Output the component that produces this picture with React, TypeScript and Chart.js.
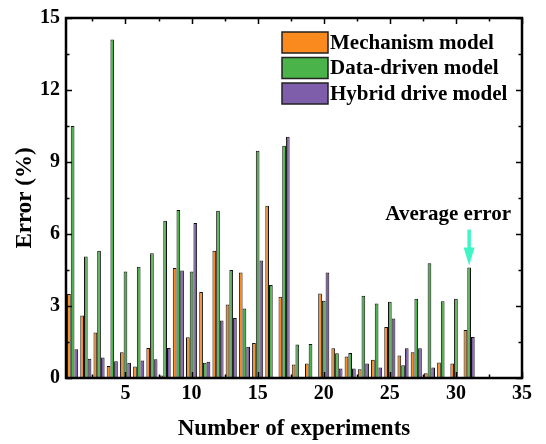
import React, { useEffect, useRef } from "react";
import { Chart, registerables } from "chart.js";

Chart.register(...registerables);

const experiments = [1, 2, 3, 4, 5, 6, 7, 8, 9, 10, 11, 12, 13, 14, 15, 16, 17, 18, 19, 20, 21, 22, 23, 24, 25, 26, 27, 28, 29, 30, 31];
const mechanismModel = [3.5, 2.6, 1.9, 0.5, 1.07, 0.48, 1.25, 0.1, 4.58, 1.7, 3.58, 5.3, 3.06, 4.4, 1.46, 7.18, 3.39, 0.56, 0.6, 3.52, 1.24, 0.9, 0.36, 0.76, 2.13, 0.94, 1.07, 0.2, 0.65, 0.6, 2.0];
const dataDrivenModel = [10.5, 5.06, 5.3, 14.1, 4.44, 4.64, 5.2, 6.55, 7.0, 4.44, 0.64, 6.97, 4.5, 2.9, 9.47, 3.88, 9.68, 1.4, 1.42, 3.22, 1.03, 1.04, 3.43, 3.1, 3.18, 0.53, 3.3, 4.78, 3.2, 3.3, 4.6];
const hybridDriveModel = [1.2, 0.8, 0.85, 0.7, 0.64, 0.73, 0.78, 1.25, 4.48, 6.46, 0.68, 2.4, 2.5, 1.3, 4.9, 0, 10.05, 0, 0, 4.4, 0.4, 0.4, 0.6, 0.44, 2.48, 1.24, 1.24, 0.44, 0, 0, 1.71];
const seriesLabels = ["Mechanism model", "Data-driven model", "Hybrid drive model"];
const xTicks = [5, 10, 15, 20, 25, 30, 35];
const yTicks = [0, 3, 6, 9, 12, 15];
const averageIndex = 31;
const annotationText = "Average error";

const FONT = "'Liberation Serif', 'Times New Roman', serif";
const colors = ["#FA8A1E", "#4AB34A", "#7E5DAA"];

const decorPlugin = {
  id: "decor",
  afterDatasetsDraw(chart: any) {
    const { ctx, chartArea: a, scales } = chart;
    const x = scales.x;
    const y = scales.y;
    ctx.save();
    ctx.strokeStyle = "#000";
    ctx.lineWidth = 1.5;
    ctx.beginPath();
    for (let v = 2.5; v <= 35.001; v += 2.5) {
      const px = Math.round(x.getPixelForValue(v)) + 0.5;
      const len = Math.abs(v % 5) < 0.01 ? 6 : 3.5;
      ctx.moveTo(px, a.bottom);
      ctx.lineTo(px, a.bottom - len);
      ctx.moveTo(px, a.top);
      ctx.lineTo(px, a.top + len);
    }
    for (let v = 0; v <= 15.001; v += 1.5) {
      const py = Math.round(y.getPixelForValue(v)) + 0.5;
      const len = Math.abs(v % 3) < 0.01 ? 6 : 3.5;
      ctx.moveTo(a.left, py);
      ctx.lineTo(a.left + len, py);
      ctx.moveTo(a.right, py);
      ctx.lineTo(a.right - len, py);
    }
    ctx.stroke();
    ctx.lineWidth = 2.5;
    ctx.strokeRect(a.left, a.top, a.right - a.left, a.bottom - a.top);

    // legend
    const lx = 282;
    const bw = 46;
    const bh = 21;
    const ly0 = 32;
    const step = 25.5;
    ctx.font = `bold 21px ${FONT}`;
    ctx.textAlign = "left";
    ctx.textBaseline = "middle";
    chart.data.datasets.forEach((ds: any, i: number) => {
      const ty = ly0 + i * step;
      ctx.fillStyle = ds.backgroundColor;
      ctx.fillRect(lx, ty, bw, bh);
      ctx.lineWidth = 1.5;
      ctx.strokeStyle = "#222";
      ctx.strokeRect(lx, ty, bw, bh);
      ctx.fillStyle = "#000";
      ctx.fillText(ds.label, lx + bw + 2, ty + bh / 2 + 1);
    });

    // annotation
    const axp = x.getPixelForValue(averageIndex);
    const gv = dataDrivenModel[averageIndex - 1];
    const tip = y.getPixelForValue(gv) - 2;
    const top = tip - 36;
    ctx.font = `bold 21px ${FONT}`;
    ctx.textAlign = "center";
    ctx.textBaseline = "alphabetic";
    ctx.fillStyle = "#000";
    ctx.fillText(annotationText, axp - 21, top - 10);
    ctx.strokeStyle = "#3FF5C6";
    ctx.fillStyle = "#3FF5C6";
    ctx.lineWidth = 3.5;
    ctx.beginPath();
    ctx.moveTo(axp, top);
    ctx.lineTo(axp, tip - 16);
    ctx.stroke();
    ctx.beginPath();
    ctx.moveTo(axp - 5.5, tip - 18);
    ctx.lineTo(axp + 5.5, tip - 18);
    ctx.lineTo(axp, tip);
    ctx.closePath();
    ctx.fill();
    ctx.restore();
  },
};

export default function App() {
  const ref = useRef<HTMLCanvasElement | null>(null);
  useEffect(() => {
    document.body.style.margin = "0";
    const canvas = ref.current;
    if (!canvas) return;
    const series = [mechanismModel, dataDrivenModel, hybridDriveModel];
    const chart = new Chart(canvas, {
      type: "bar",
      data: {
        datasets: series.map((vals, i) => ({
          label: seriesLabels[i],
          data: experiments.map((e, j) => ({ x: e, y: vals[j] })),
          backgroundColor: colors[i],
          borderColor: "#111",
          borderWidth: 1,
          categoryPercentage: 0.84,
          barPercentage: 1.0,
        })),
      },
      options: {
        responsive: false,
        animation: false,
        layout: { padding: { top: 10, right: 24, left: 0, bottom: 0 } },
        plugins: { legend: { display: false }, tooltip: { enabled: false } },
        scales: {
          x: {
            type: "linear",
            min: 0.5,
            max: 35,
            offset: false,
            grid: { display: false, drawTicks: false },
            border: { display: false },
            afterBuildTicks: (s: any) => {
              s.ticks = xTicks.map((v) => ({ value: v }));
            },
            afterFit: (s: any) => {
              s.height = 66;
            },
            ticks: {
              padding: 4,
              color: "#000",
              maxRotation: 0,
              font: { family: FONT, size: 20, weight: "bold" },
            },
            title: {
              display: true,
              text: "Number of experiments",
              color: "#000",
              padding: { top: 0, bottom: 1 },
              font: { family: FONT, size: 23, weight: "bold" },
            },
          },
          y: {
            min: 0,
            max: 15,
            grid: { display: false, drawTicks: false },
            border: { display: false },
            afterBuildTicks: (s: any) => {
              s.ticks = yTicks.map((v) => ({ value: v }));
            },
            afterFit: (s: any) => {
              s.width = 66;
            },
            ticks: {
              padding: 6,
              color: "#000",
              font: { family: FONT, size: 20, weight: "bold" },
            },
            title: {
              display: true,
              text: "Error (%)",
              color: "#000",
              padding: { top: 11, bottom: 0 },
              font: { family: FONT, size: 23, weight: "bold" },
            },
          },
        },
      },
      plugins: [decorPlugin],
    } as any);
    return () => chart.destroy();
  }, []);
  return (
    <div style={{ width: 546, height: 444 }}>
      <canvas ref={ref} width={546} height={444} />
    </div>
  );
}
